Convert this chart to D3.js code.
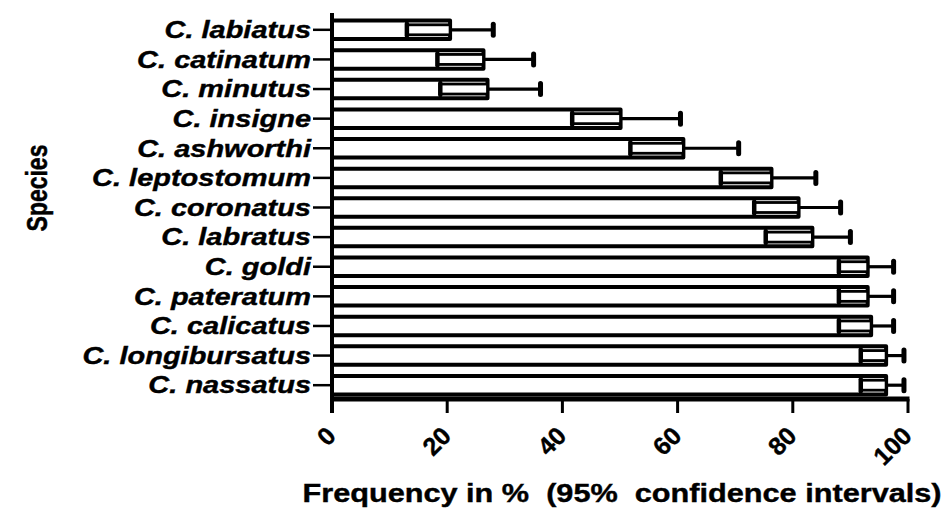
<!DOCTYPE html>
<html lang="en">
<head>
<meta charset="utf-8">
<title>Species frequency</title>
<script src="https://d3js.org/d3.v7.min.js"></script>
<style>
body { margin: 0; background: #fff; }
text { font-family: "Liberation Sans", Arial, sans-serif; font-weight: bold; fill: #000; stroke: #000; stroke-width: 0.4px; }
</style>
</head>
<body>
<script>
// data (top to bottom)
var species = ["C. labiatus", "C. catinatum", "C. minutus", "C. insigne", "C. ashworthi",
  "C. leptostomum", "C. coronatus", "C. labratus", "C. goldi", "C. pateratum",
  "C. calicatus", "C. longibursatus", "C. nassatus"];
var freq  = [20.5, 26.3, 27.0, 50.1, 61.0, 76.3, 81.0, 83.4, 93.0, 93.0, 93.6, 96.2, 96.2];
var lower = [13.0, 18.3, 18.8, 41.7, 51.8, 67.5, 73.3, 75.3, 88.0, 88.0, 88.0, 91.8, 91.8];
var upper = [28.0, 35.0, 36.2, 60.5, 70.6, 84.0, 88.3, 90.0, 97.5, 97.5, 97.5, 99.3, 99.3];
var xTicks = [0, 20, 40, 60, 80, 100];

var w = 946, h = 510;
var sx = 1.26; // the original picture is stretched sideways

var svg = d3.select("body").append("svg")
  .attr("width", w)
  .attr("height", h);

var x = d3.scaleLinear().domain([0, 100]).range([332, 908]);
var y = d3.scaleBand().domain(species).range([15, 400])
  .paddingInner(0.24).paddingOuter(0.12);

var rows = species.map(function(s, i) {
  return {name: s, v: freq[i], lo: lower[i], hi: upper[i]};
});

// bars
var bw = y.bandwidth();
svg.selectAll("rect.bar")
  .data(rows)
  .enter().append("rect")
  .attr("class", "bar")
  .attr("x", x(0))
  .attr("y", function(d) { return y(d.name) + 2; })
  .attr("width", function(d) { return x(d.v) - x(0); })
  .attr("height", bw - 4)
  .attr("fill", "#fff")
  .attr("stroke", "#000")
  .attr("stroke-width", 4)
  .attr("stroke-linejoin", "round");

// error bars: inner part drawn as a hollow box, outer part a line with a cap
var eb = svg.selectAll("g.err")
  .data(rows)
  .enter().append("g")
  .attr("class", "err")
  .attr("transform", function(d) { return "translate(0," + (y(d.name) + bw / 2) + ")"; });

eb.append("rect")
  .attr("x", function(d) { return x(d.lo); })
  .attr("y", -5)
  .attr("width", function(d) { return x(d.v) - x(d.lo); })
  .attr("height", 10)
  .attr("fill", "#fff")
  .attr("stroke", "#000")
  .attr("stroke-width", 2.8);

eb.append("line")
  .attr("x1", function(d) { return x(d.lo); })
  .attr("x2", function(d) { return x(d.lo); })
  .attr("y1", -6).attr("y2", 6)
  .attr("stroke", "#000")
  .attr("stroke-width", 4.5)
  .attr("stroke-linecap", "round");

eb.append("line")
  .attr("x1", function(d) { return x(d.v); })
  .attr("x2", function(d) { return x(d.hi); })
  .attr("y1", 0).attr("y2", 0)
  .attr("stroke", "#000")
  .attr("stroke-width", 3.2);

eb.append("line")
  .attr("x1", function(d) { return x(d.hi); })
  .attr("x2", function(d) { return x(d.hi); })
  .attr("y1", -5.5).attr("y2", 5.5)
  .attr("stroke", "#000")
  .attr("stroke-width", 5)
  .attr("stroke-linecap", "round");

// y axis
svg.append("line")
  .attr("x1", x(0)).attr("x2", x(0))
  .attr("y1", 13).attr("y2", 413)
  .attr("stroke", "#000").attr("stroke-width", 4);

var yt = svg.selectAll("g.ytick")
  .data(species)
  .enter().append("g")
  .attr("class", "ytick")
  .attr("transform", function(d) { return "translate(0," + (y(d) + bw / 2) + ")"; });

yt.append("line")
  .attr("x1", x(0) - 19).attr("x2", x(0))
  .attr("stroke", "#000").attr("stroke-width", 2.5);

yt.append("text")
  .attr("transform", "translate(" + (x(0) - 21) + ",0) scale(" + sx + ",1)")
  .attr("text-anchor", "end")
  .attr("dy", "0.36em")
  .style("font-size", "23px")
  .style("font-style", "italic")
  .text(function(d) { return d; });

// x axis
svg.append("line")
  .attr("x1", x(0) - 2).attr("x2", x(100) + 1.5)
  .attr("y1", 399).attr("y2", 399)
  .attr("stroke", "#000").attr("stroke-width", 5);

var xt = svg.selectAll("g.xtick")
  .data(xTicks)
  .enter().append("g")
  .attr("class", "xtick")
  .attr("transform", function(d) { return "translate(" + x(d) + ",0)"; });

xt.append("line")
  .attr("y1", 399).attr("y2", 413)
  .attr("stroke", "#000").attr("stroke-width", 3);

xt.append("text")
  .attr("transform", "translate(-1,431) rotate(-45)")
  .attr("text-anchor", "end")
  .attr("dy", "0.36em")
  .style("font-size", "25px")
  .text(function(d) { return d; });

// axis titles
svg.append("text")
  .attr("transform", "translate(622,502) scale(1.18,1)")
  .attr("text-anchor", "middle")
  .style("font-size", "26px")
  .style("white-space", "pre")
  .text("Frequency in %  (95%  confidence intervals)");

svg.append("text")
  .attr("transform", "translate(47,188) scale(1.3,1) rotate(-90)")
  .attr("text-anchor", "middle")
  .style("font-size", "23px")
  .text("Species");
</script>
</body>
</html>
